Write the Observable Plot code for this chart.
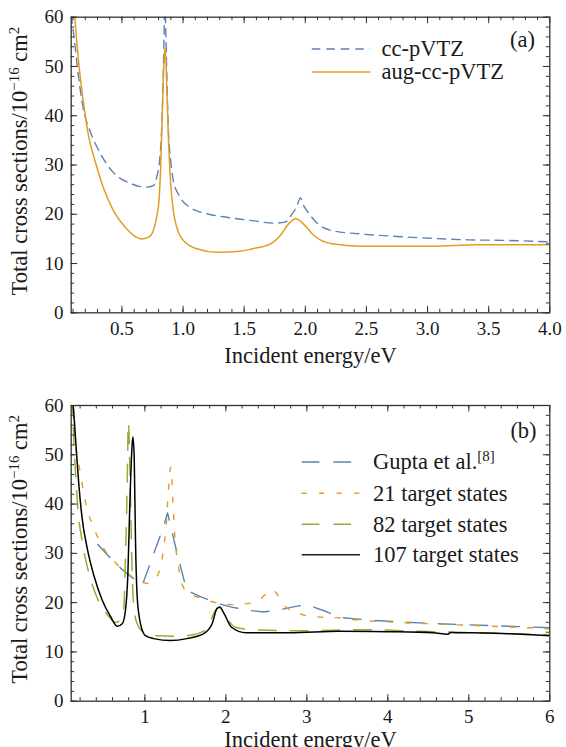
<!DOCTYPE html>
<html><head><meta charset="utf-8">
<script src="https://cdn.jsdelivr.net/npm/d3@7"></script>
<script src="https://cdn.jsdelivr.net/npm/@observablehq/plot@0.6"></script>
<style>
html,body{margin:0;padding:0;background:#fff;overflow:hidden}
#chart{width:566px;height:747px;overflow:hidden}
#chart svg{display:block}
#chart svg text{font-family:"Liberation Serif","DejaVu Serif","Liberation Sans",serif}
</style></head><body><div id="chart"></div>
<script>
// ---------- Panel (a) data ----------
const aEnergyCC = [0.085,0.115,0.142,0.183,0.238,0.32,0.429,0.566,0.703,0.757,0.784,0.811,0.833,0.844,0.852,0.859,0.866,0.879,0.899,0.92,0.975,1.057,1.194,1.33,1.467,1.568,1.746,1.834,1.893,1.93,1.96,1.99,2.011,2.10,2.218,2.454,2.75,3.045,3.34,3.636,4.0];
const aCC       = [60.5,54.5,48.5,41.5,37.0,32.5,28.5,26.3,25.5,25.8,27.5,31.6,43.1,55.3,63,57,49.8,37.7,30.9,26.9,23.5,21.4,20.1,19.5,19.0,18.7,18.2,18.4,20.1,21.6,23.3,21.6,20.8,18.1,16.7,16.0,15.5,15.1,14.8,14.7,14.4];
const aEnergyAug = [0.105,0.115,0.15,0.183,0.224,0.279,0.347,0.429,0.525,0.62,0.662,0.716,0.757,0.784,0.805,0.817,0.833,0.85,0.855,0.866,0.879,0.899,0.92,0.948,1.002,1.112,1.276,1.467,1.568,1.716,1.805,1.864,1.923,1.982,2.07,2.218,2.454,3.045,3.40,4.0];
const aAug       = [64,60,49.9,43.1,36.3,30.9,25.5,20.8,17.4,15.3,15.0,15.3,16.7,19.4,23.5,29.6,43.1,53.2,53.6,46.5,36.3,26.2,20.8,17.4,14.7,13.0,12.3,12.5,13.0,14.0,16.0,18.1,19.1,18.1,15.7,14.0,13.5,13.5,13.8,13.8];

// ---------- Panel (b) data ----------
const bEnergyGupta = [0.42,0.62,0.755,0.92,0.967,1.228,1.28,1.37,1.515,1.70,1.907,2.07,2.26,2.46,2.65,2.85,3.0,3.22,3.41,3.6,3.8,4.15,4.5,5.0,5.5,6.0];
const bGupta       = [31.8,28.2,26.2,24.1,23.5,35.3,38.2,31.9,22.5,21.1,19.8,19.1,18.5,18.1,18.5,19.2,19.6,18.3,17.0,16.7,16.4,16.1,15.8,15.5,15.2,14.9];
const bEnergy21 = [0.1,0.13,0.16,0.19,0.233,0.28,0.357,0.447,0.55,0.632,0.75,0.85,0.94,1.02,1.1,1.167,1.228,1.27,1.29,1.32,1.35,1.37,1.41,1.475,1.56,1.72,1.93,2.1,2.3,2.4,2.57,2.74,2.92,3.14,3.4,3.67,4.12,5.0,6.0];
const b21       = [62,55,50,47.5,43.4,39.4,35.7,32.3,29.6,28.2,26.3,25.2,24.5,23.9,24.5,25.9,30.6,37.3,42.8,47.5,39.4,33.3,27.9,23.1,21.8,20.8,19.8,19.6,19.9,20.4,22.6,19.1,17.7,17.1,16.9,16.4,16.0,15.4,14.7];
const bEnergy82 = [0.1,0.12,0.143,0.17,0.225,0.308,0.41,0.535,0.637,0.70,0.74,0.76,0.78,0.796,0.82,0.843,0.863,0.905,0.986,1.15,1.36,1.56,1.727,1.80,1.87,1.92,1.98,2.113,2.336,3.004,3.671,4.562,6.0];
const b82       = [62,54,46.5,39.5,32.5,26.0,21.0,17.6,16.0,16.4,19.1,29.2,42.8,56.6,42.8,25.9,19.1,15.7,14.0,13.3,13.2,13.4,14.2,15.9,18.4,19.0,17.7,15.0,14.5,14.3,14.5,14.1,13.5];
const bEnergy107 = [0.105,0.12,0.155,0.184,0.226,0.288,0.37,0.473,0.575,0.66,0.72,0.76,0.79,0.813,0.843,0.852,0.868,0.884,0.905,0.946,1.007,1.11,1.316,1.52,1.727,1.83,1.89,1.925,1.98,2.069,2.247,2.781,3.404,4.0,4.562,4.74,4.78,4.83,5.007,5.5,6.0];
const b107       = [62,59,50.5,44.0,37.0,31.0,25.5,20.5,17.2,15.2,15.7,18.4,25.9,39.4,52.2,53.6,49.5,32.6,21.1,15.7,13.3,12.7,12.3,12.7,13.7,15.7,18.8,19.1,17.7,15.0,13.9,13.9,14.2,14.1,13.9,13.6,13.95,13.9,13.9,13.7,13.3];

// ---------- ticks & labels ----------
const aXMajor = [0.5,1.0,1.5,2.0,2.5,3.0,3.5,4.0];
const bXMajor = [1,2,3,4,5,6];
const yMajor = [0,10,20,30,40,50,60];
const aLegend = ["cc-pVTZ","aug-cc-pVTZ"];
const bLegend = ["Gupta et al.[8]","21 target states","82 target states","107 target states"];
const XLABEL = "Incident energy/eV";
const YLABEL = "Total cross sections/10−16 cm2";

const BLUE="#5E81B5", ORANGE="#E19C24", GREEN="#8FB032", BLACK="#000000", FRAME="#333333";
const FONT = "Liberation Serif, DejaVu Serif, Liberation Sans, serif";
const W = 566, FL = 70.7, FR = 549.3, FW = FR - FL;

const pts = (xs, ys) => xs.map((x, i) => ({x, y: ys[i]}));

function frameMarks(xMajor, xMinor, yMinor, FH, fmt, xlabDy) {
  const t = {stroke: FRAME, strokeWidth: 1};
  const tx = {fill: "#1a1a1a"};
  return [
    Plot.tickX(xMinor, {x: d => d, insetTop: FH - 3.5, ...t}),
    Plot.tickX(xMinor, {x: d => d, insetBottom: FH - 3.5, ...t}),
    Plot.tickX(xMajor, {x: d => d, insetTop: FH - 6.5, ...t}),
    Plot.tickX(xMajor, {x: d => d, insetBottom: FH - 6.5, ...t}),
    Plot.tickY(yMinor, {y: d => d, insetRight: FW - 3.5, ...t}),
    Plot.tickY(yMinor, {y: d => d, insetLeft: FW - 3.5, ...t}),
    Plot.tickY(yMajor, {y: d => d, insetRight: FW - 6.5, ...t}),
    Plot.tickY(yMajor, {y: d => d, insetLeft: FW - 6.5, ...t}),
    Plot.frame({stroke: FRAME, strokeWidth: 1.3}),
    Plot.axisX({ticks: xMajor, tickSize: 0, tickPadding: 8.5, tickFormat: fmt, label: null, fontSize: 19, ...tx}),
    Plot.axisY({ticks: yMajor, tickSize: 0, tickPadding: 7.7, label: null, fontSize: 19, ...tx}),
    Plot.text([XLABEL], {frameAnchor: "bottom", dy: xlabDy, lineAnchor: "bottom", fontSize: 22.5, ...tx}),
    Plot.text([YLABEL], {frameAnchor: "left", rotate: -90, dx: -44.2, dy: -4, lineAnchor: "bottom", textAnchor: "middle", fontSize: 22.5, ...tx})
  ];
}

function legendRow(label, i, rowsDy, x0, x1, tx, style) {
  return [
    Plot.ruleY([60], {dy: rowsDy[i], insetLeft: x0 - FL, insetRight: FR - x1, ...style}),
    Plot.text([label], {frameAnchor: "top-left", dx: tx - FL, dy: rowsDy[i], textAnchor: "start", lineAnchor: "middle", fontSize: 22.5, fill: "#1a1a1a"})
  ];
}

function finish(svg) {
  d3.select(svg).selectAll("text").each(function() {
    const t = d3.select(this);
    const s = this.textContent;
    let parts = null;
    if (s === YLABEL) parts = [["Total cross sections/10", 0, null], ["−16", -8, 15], [" cm", 8, null], ["2", -8, 15]];
    else if (s === "Gupta et al.[8]") parts = [["Gupta et al.", 0, null], ["[8]", -8, 15]];
    if (!parts) return;
    t.text(null);
    parts.forEach(([txt, dy, fs]) => {
      const ts = t.append("tspan").text(txt);
      if (dy) ts.attr("dy", dy);
      if (fs) ts.attr("font-size", fs);
    });
  });
}

// ---------- Panel (a) ----------
const H1 = 372, MT1 = 16.7, MB1 = H1 - 312.3;
const FH1 = H1 - MT1 - MB1;
const legA = [31.8, 54.8];
const plotA = Plot.plot({
  width: W, height: H1, marginLeft: FL, marginRight: W - FR, marginTop: MT1, marginBottom: MB1,
  style: {fontFamily: FONT, fontSize: "20px", background: "#fff", color: "#1a1a1a"},
  x: {domain: [0.085, 4]},
  y: {domain: [0, 60]},
  marks: [
    Plot.line(pts(aEnergyCC, aCC), {x: "x", y: "y", stroke: BLUE, strokeWidth: 1.4, strokeDasharray: "8.5,6", curve: "monotone-x", clip: true}),
    Plot.line(pts(aEnergyAug, aAug), {x: "x", y: "y", stroke: ORANGE, strokeWidth: 1.5, curve: "monotone-x", clip: true}),
    ...frameMarks(aXMajor, d3.range(0.1, 4.0, 0.1), d3.range(0, 61, 2), FH1, d3.format(".1f"), 50.4),
    ...legendRow(aLegend[0], 0, legA, 311.8, 370.2, 381, {stroke: BLUE, strokeWidth: 1.4, strokeDasharray: "8.5,6"}),
    ...legendRow(aLegend[1], 1, legA, 311.8, 370.2, 381, {stroke: ORANGE, strokeWidth: 1.5}),
    Plot.text(["(a)"], {frameAnchor: "top-right", dx: -27.3, dy: 22.3, textAnchor: "middle", lineAnchor: "middle", fontSize: 22.5, fill: "#1a1a1a"})
  ]
});

// ---------- Panel (b) ----------
const H2 = 375, MT2 = 33, MB2 = H2 - 328.7;
const FH2 = H2 - MT2 - MB2;
const legB = [56.5, 87.8, 118.8, 149.3];
const plotB = Plot.plot({
  width: W, height: H2, marginLeft: FL, marginRight: W - FR, marginTop: MT2, marginBottom: MB2,
  style: {fontFamily: FONT, fontSize: "20px", background: "#fff", color: "#1a1a1a"},
  x: {domain: [0.09, 6]},
  y: {domain: [0, 60]},
  marks: [
    Plot.line(pts(bEnergyGupta, bGupta), {x: "x", y: "y", stroke: BLUE, strokeWidth: 1.4, strokeDasharray: "17.7,14", clip: true}),
    Plot.line(pts(bEnergy21, b21), {x: "x", y: "y", stroke: ORANGE, strokeWidth: 1.4, strokeDasharray: "5,12.5", curve: "monotone-x", clip: true}),
    Plot.line(pts(bEnergy82, b82), {x: "x", y: "y", stroke: GREEN, strokeWidth: 1.5, strokeDasharray: "17.7,14", curve: "monotone-x", clip: true}),
    Plot.line(pts(bEnergy107, b107), {x: "x", y: "y", stroke: BLACK, strokeWidth: 1.5, curve: "monotone-x", clip: true}),
    ...frameMarks(bXMajor, d3.range(0.2, 6.0, 0.2), d3.range(0, 61, 2), FH2, d => String(d), 46),
    ...legendRow(bLegend[0], 0, legB, 301.7, 360, 372.5, {stroke: BLUE, strokeWidth: 1.4, strokeDasharray: "17.7,14"}),
    ...legendRow(bLegend[1], 1, legB, 301.7, 360, 372.5, {stroke: ORANGE, strokeWidth: 1.4, strokeDasharray: "5,12.5"}),
    ...legendRow(bLegend[2], 2, legB, 301.7, 360, 372.5, {stroke: GREEN, strokeWidth: 1.5, strokeDasharray: "17.7,14"}),
    ...legendRow(bLegend[3], 3, legB, 301.7, 360, 372.5, {stroke: "#222", strokeWidth: 1.6}),
    Plot.text(["(b)"], {frameAnchor: "top-right", dx: -26.3, dy: 25, textAnchor: "middle", lineAnchor: "middle", fontSize: 22.5, fill: "#1a1a1a"})
  ]
});

finish(plotA); finish(plotB);
const chart = document.getElementById("chart");
chart.appendChild(plotA);
chart.appendChild(plotB);
</script>
</body></html>
